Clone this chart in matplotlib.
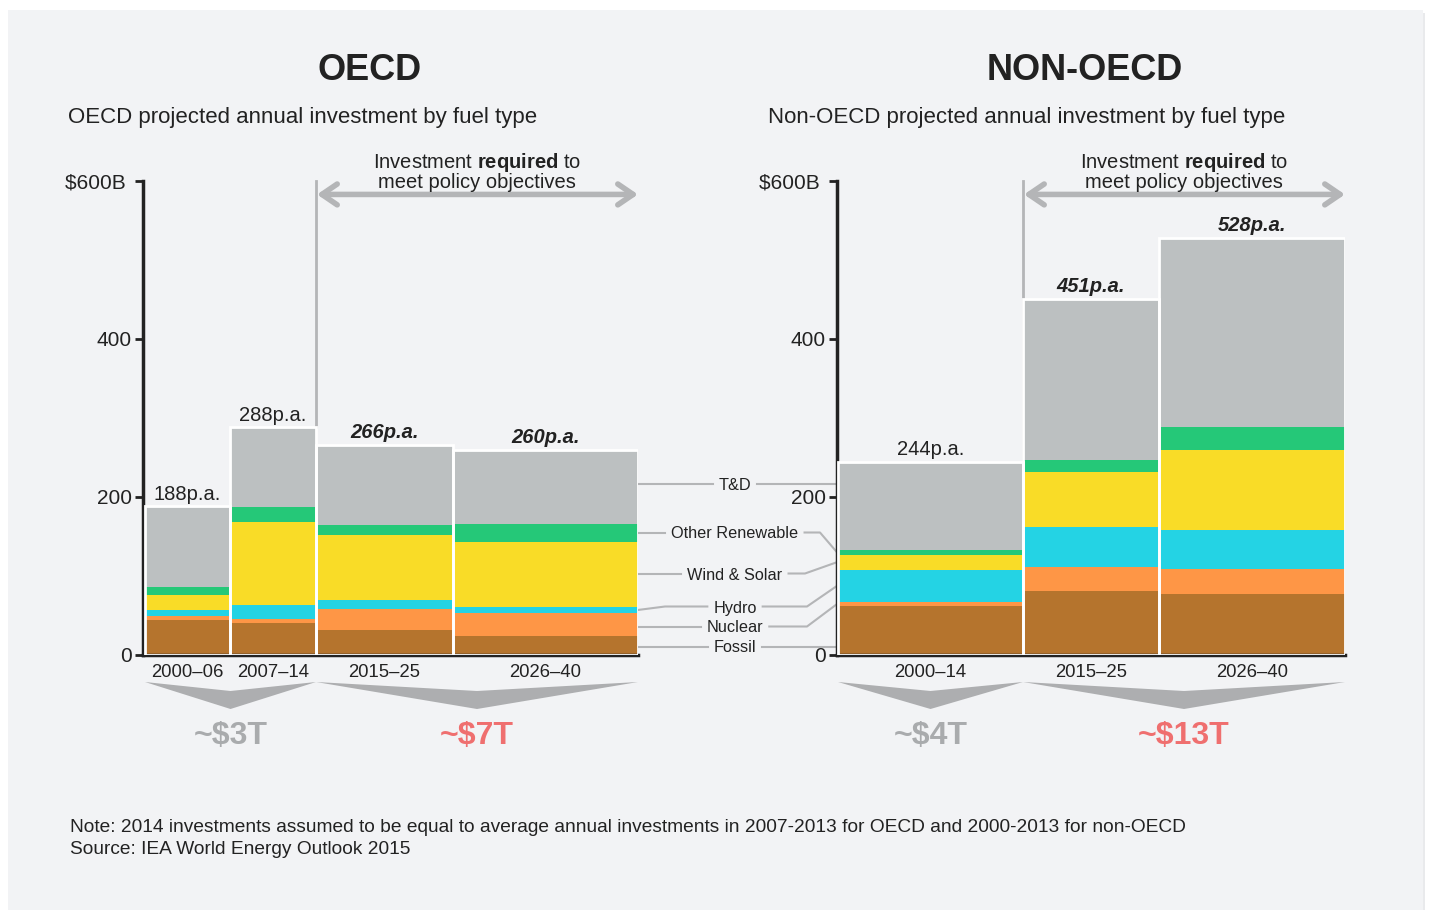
import matplotlib
matplotlib.use('Agg')
import matplotlib.pyplot as plt
from matplotlib.patches import Rectangle, Polygon

plt.rcParams['font.family'] = ['Liberation Sans', 'DejaVu Sans']
plt.rcParams['mathtext.fontset'] = 'custom'
plt.rcParams['mathtext.rm'] = 'Liberation Sans'
plt.rcParams['mathtext.bf'] = 'Liberation Sans:bold'

# ---- data (US$ billion per year) ----
fuels = ['Fossil', 'Nuclear', 'Hydro', 'Wind & Solar', 'Other Renewable', 'T&D']

oecd_periods = ['2000\u201306', '2007\u201314', '2015\u201325', '2026\u201340']
oecd_fossil = [44, 41, 32, 24]
oecd_nuclear = [5, 5, 26, 29]
oecd_hydro = [8, 17, 11, 8]
oecd_wind_solar = [19, 105, 83, 82]
oecd_other_ren = [10, 19, 13, 23]
oecd_td = [102, 101, 101, 94]
oecd_totals = [188, 288, 266, 260]

non_periods = ['2000\u201314', '2015\u201325', '2026\u201340']
non_fossil = [62, 81, 77]
non_nuclear = [5, 30, 32]
non_hydro = [41, 51, 49]
non_wind_solar = [19, 70, 101]
non_other_ren = [6, 15, 30]
non_td = [111, 204, 239]
non_totals = [244, 451, 528]

oecd_cum = ['~$3T', '~$7T']
non_cum = ['~$4T', '~$13T']

# ---- style / layout ----
colors = ['#b5742d', '#fe9646', '#24d3e4', '#f9dc27', '#25c878', '#bcc0c1']
bg = '#f2f3f5'
dark = '#222222'
lgray = '#b4b5b7'
oecd_widths = [85, 86, 137, 185]
non_widths = [185, 136, 186]
W, H = 1429, 910

fig = plt.figure(figsize=(W / 100, H / 100), dpi=100, facecolor='white')
ov = fig.add_axes([0, 0, 1, 1], zorder=0)
ov.set_xlim(0, W)
ov.set_ylim(H, 0)
ov.axis('off')
ov.add_patch(Rectangle((11, 13), 1414, 900, fc='#e9eaec', ec='none'))
ov.add_patch(Rectangle((8, 10), 1415, 900, fc=bg, ec='none'))


def make_axes(left_px, right_px):
    ax = fig.add_axes([left_px / W, (H - 655) / H, (right_px - left_px) / W, (655 - 181) / H], zorder=1)
    ax.set_facecolor('none')
    ax.set_xlim(0, right_px - left_px)
    ax.set_ylim(0, 600)
    for s in ['top', 'right']:
        ax.spines[s].set_visible(False)
    for s in ['left', 'bottom']:
        ax.spines[s].set_color(dark)
        ax.spines[s].set_linewidth(2.5)
    ax.set_yticks([0, 200, 400, 600])
    ax.set_yticklabels(['0', '200', '400', '$600B '])
    ax.tick_params(axis='y', length=6, width=2, color=dark, labelsize=15, labelcolor=dark, pad=2)
    ax.tick_params(axis='x', length=0, labelsize=13.3, labelcolor=dark, pad=6.5)
    return ax


def to_px(ax, x, y):
    X, Y = ax.transData.transform((x, y))
    return X, H - Y


def draw_stack(ax, start, widths, series, totals, periods, n_hist):
    edges = [start]
    for w in widths:
        edges.append(edges[-1] + w)
    lefts = edges[:-1]
    bottoms = [0] * len(widths)
    for vals, c in zip(series, colors):
        ax.bar(lefts, vals, width=widths, bottom=bottoms, align='edge', color=c, linewidth=0, zorder=2)
        bottoms = [b + v for b, v in zip(bottoms, vals)]
    for l, w, t in zip(lefts, widths, totals):
        ax.add_patch(Rectangle((l, 0), w, t, fill=False, ec='white', lw=2, zorder=3))
    centers = [l + w / 2 for l, w in zip(lefts, widths)]
    ax.set_xticks(centers)
    ax.set_xticklabels(periods)
    for i, (cx, t) in enumerate(zip(centers, totals)):
        proj = i >= n_hist
        ax.annotate(f'{t}p.a.', (cx, t), xytext=(0, 2), textcoords='offset points',
                    ha='center', va='bottom', fontsize=14.5, color=dark,
                    fontweight='bold' if proj else 'normal',
                    fontstyle='italic' if proj else 'normal', zorder=4)
    return edges


ax1 = make_axes(143, 638)
ax2 = make_axes(837, 1345)

oecd_series = [oecd_fossil, oecd_nuclear, oecd_hydro, oecd_wind_solar, oecd_other_ren, oecd_td]
non_series = [non_fossil, non_nuclear, non_hydro, non_wind_solar, non_other_ren, non_td]
e1 = draw_stack(ax1, 2, oecd_widths, oecd_series, oecd_totals, oecd_periods, 2)
e2 = draw_stack(ax2, 1, non_widths, non_series, non_totals, non_periods, 1)


def required_bracket(ax, xb, xe, ytop):
    ax.plot([xb, xb], [ytop, 600], color=lgray, lw=2, clip_on=False, zorder=1)
    ax.annotate('', xy=(xe, 583), xytext=(xb + 1, 583),
                arrowprops=dict(arrowstyle='<->,head_length=1.1,head_width=0.75', lw=4,
                                color=lgray, shrinkA=0, shrinkB=0, mutation_scale=10),
                annotation_clip=False)
    ax.text((xb + xe) / 2, 612, 'Investment $\\mathbf{required}$ to\nmeet policy objectives',
            ha='center', va='center', fontsize=14.5, color=dark, linespacing=0.95, clip_on=False)


required_bracket(ax1, e1[2], e1[-1], oecd_totals[1])
required_bracket(ax2, e2[1], e2[-1], non_totals[0])


def chevrons(ax, edges, groups, labels, label_colors):
    for (a, b), lab, lc in zip(groups, labels, label_colors):
        x0, _ = to_px(ax, edges[a], 0)
        x1, _ = to_px(ax, edges[b], 0)
        xm = (x0 + x1) / 2
        ov.add_patch(Polygon([(x0, 682), (xm, 691), (x1, 682), (xm, 709)],
                             closed=True, fc='#adaeb0', ec='none'))
        ov.text(xm, 736, lab, ha='center', va='center', fontsize=23, fontweight='bold', color=lc)


chevrons(ax1, e1, [(0, 2), (2, 4)], oecd_cum, ['#a9abad', '#ef6f6f'])
chevrons(ax2, e2, [(0, 1), (1, 3)], non_cum, ['#a9abad', '#ef6f6f'])

# ---- titles ----
ov.text(370, 70, 'OECD', ha='center', va='center', fontsize=26, fontweight='bold', color=dark)
ov.text(1085, 70, 'NON-OECD', ha='center', va='center', fontsize=26, fontweight='bold', color=dark)
ov.text(68, 118, 'OECD projected annual investment by fuel type', ha='left', va='center',
        fontsize=16, color=dark)
ov.text(768, 118, 'Non-OECD projected annual investment by fuel type', ha='left', va='center',
        fontsize=16, color=dark)

# ---- central legend with leader lines ----
label_y = [648, 628, 608, 575, 534, 485]
bend_r = [807, 807, 807, 805, 820, 807]
to_mid_l = [False, False, True, False, False, False]
to_mid_r = [False, True, True, True, True, False]
cum1 = [0]
cum2 = [0]
for s1, s2 in zip(oecd_series, non_series):
    cum1.append(cum1[-1] + s1[-1])
    cum2.append(cum2[-1] + s2[0])

labels = [ov.text(735, ly, name, ha='center', va='center', fontsize=11.7, color=dark)
          for name, ly in zip(fuels, label_y)]
fig.canvas.draw()
renderer = fig.canvas.get_renderer()
for i, t in enumerate(labels):
    bb = t.get_window_extent(renderer)
    ly = (H - (bb.y0 + bb.y1) / 2) - 1.5
    tl, tr = bb.x0 - 6, bb.x1 + 6
    xl, yl = to_px(ax1, e1[-1], (cum1[i] + cum1[i + 1]) / 2)
    xr, yr = to_px(ax2, 0, (cum2[i] + cum2[i + 1]) / 2)
    if not to_mid_l[i]:
        yl = ly
    if not to_mid_r[i]:
        yr = ly
    ov.plot([xl, 665, tl], [yl, ly, ly], color=lgray, lw=1.5, zorder=1)
    ov.plot([tr, bend_r[i], xr], [ly, ly, yr], color=lgray, lw=1.5, zorder=1)

# ---- footer ----
ov.text(70, 828, 'Note: 2014 investments assumed to be equal to average annual investments in '
        '2007-2013 for OECD and 2000-2013 for non-OECD', ha='left', va='center', fontsize=13.8, color=dark)
ov.text(70, 850, 'Source: IEA World Energy Outlook 2015', ha='left', va='center', fontsize=13.8, color=dark)

fig.savefig('out.png', dpi=100, facecolor='white')
